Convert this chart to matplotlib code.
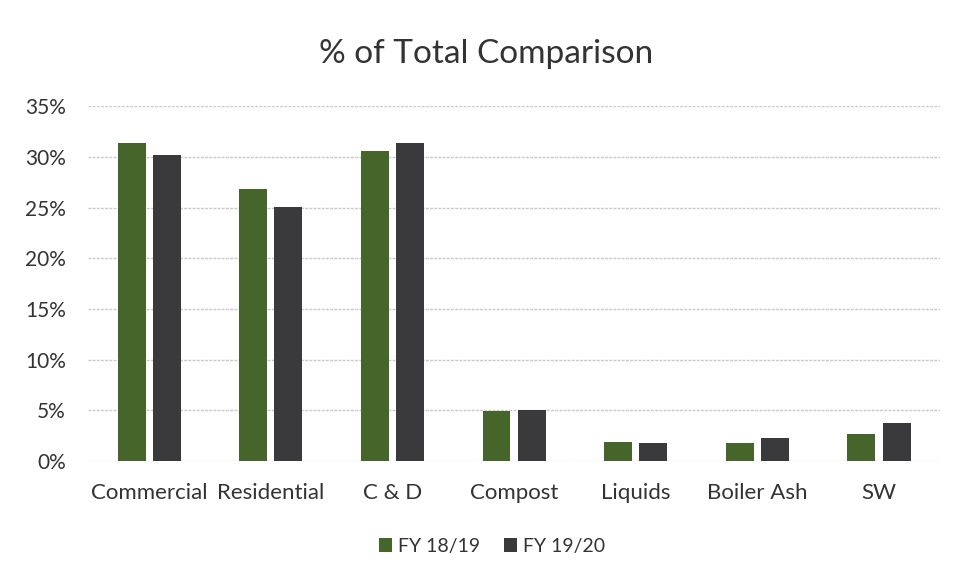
import matplotlib.pyplot as plt
import numpy as np
from matplotlib.ticker import PercentFormatter

categories = ["Commercial", "Residential", "C & D", "Compost", "Liquids", "Boiler Ash", "SW"]
fy1819 = [31.4, 26.8, 30.6, 4.9, 1.9, 1.8, 2.7]
fy1920 = [30.2, 25.1, 31.4, 5.0, 1.8, 2.3, 3.8]

GREEN = "#46652a"
DARK = "#3a3a3c"

plt.rcParams['font.family'] = ['Lato', 'DejaVu Sans']

fig = plt.figure(figsize=(9.59, 5.83), dpi=100)
ax = fig.add_axes([0.092, 0.209, 0.888, 0.609])

x = np.arange(len(categories))
w = 0.23
off = 0.144
ax.bar(x - off, fy1819, width=w, color=GREEN, label="FY 18/19", zorder=3)
ax.bar(x + off, fy1920, width=w, color=DARK, label="FY 19/20", zorder=3)

ax.set_xlim(-0.5, len(categories) - 0.5)
ax.set_ylim(0, 35)
ax.set_yticks(np.arange(0, 36, 5))
ax.yaxis.set_major_formatter(PercentFormatter(decimals=0))
ax.set_xticks(x)
ax.set_xticklabels(categories)
ax.tick_params(axis='both', length=0, colors="#333333")
ax.tick_params(axis='y', pad=16, labelsize=15)
ax.tick_params(axis='x', pad=16, labelsize=16)
ax.grid(axis='y', color="#c8c8c8", linewidth=1, linestyle=(0, (2, 1)), zorder=0)
for s in ax.spines.values():
    s.set_visible(False)

fig.text(0.507, 0.907, "% of Total Comparison", ha='center', va='center',
         fontsize=24, color="#333333")

fig.legend(loc='center', bbox_to_anchor=(0.513, 0.063), ncol=2, frameon=False,
           fontsize=14, handlelength=0.7, handleheight=0.7, handletextpad=0.3,
           columnspacing=1.2, labelcolor="#333333")

fig.savefig("out.png", dpi=100, facecolor="white")
